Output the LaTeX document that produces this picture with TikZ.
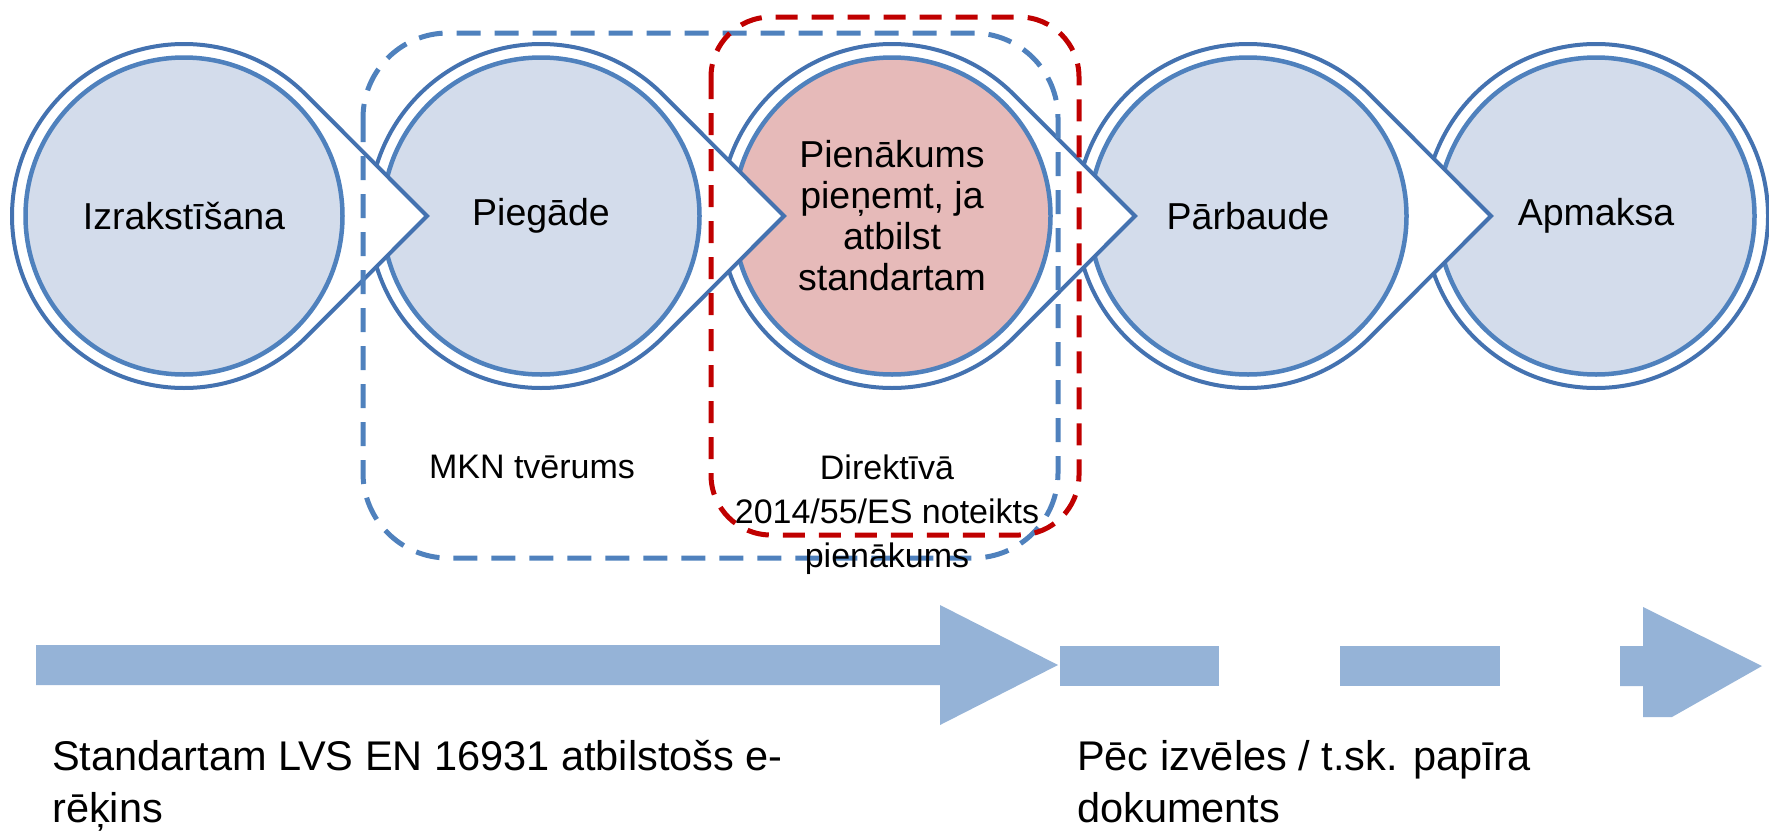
\documentclass[tikz,border=0pt]{standalone}
\usepackage{fontspec}
\setmainfont{Liberation Sans}
\definecolor{ringout}{RGB}{68,114,176}
\definecolor{ringin}{RGB}{79,129,189}
\definecolor{fillblue}{RGB}{211,220,235}
\definecolor{fillpink}{RGB}{230,186,185}
\definecolor{barblue}{RGB}{149,179,215}
\definecolor{dashblue}{RGB}{79,129,189}
\definecolor{dashred}{RGB}{192,0,0}
\tikzset{
  outershape/.style={fill=white, draw=ringout, line width=4pt, line join=miter},
  stage/.style={circle, minimum size=317pt, inner sep=0pt, draw=ringin, line width=4.5pt,
    fill=fillblue, align=center, font=\fontsize{37.5}{41}\selectfont},
  scopebox/.style={draw=dashblue, line width=5pt, dash pattern=on 24pt off 14pt, rounded corners=85pt},
  dirbox/.style={draw=dashred, line width=5pt, dash pattern=on 22pt off 14pt, rounded corners=60pt},
  note/.style={font=\fontsize{34}{44}\selectfont, inner sep=0pt, anchor=base},
  bignote/.style={font=\fontsize{41.5}{52}\selectfont, inner sep=0pt, anchor=base west},
  bar/.style={fill=barblue}
}
\begin{document}
\begin{tikzpicture}[x=1pt, y=-1pt]
\useasboundingbox (0,0) rectangle (1769,830);
% stages, drawn right to left so each tip overlaps the next circle
\draw[outershape] (1596,216) circle[radius=172];
\node[stage] (apm) at (1596,216) {Apmaksa};
\draw[outershape] (1491,216) -- ([shift={(45:172)}]1248,216)
  arc[start angle=45, end angle=315, radius=172] -- cycle;
\node[stage] (par) at (1248,216) {Pārbaude};
\draw[outershape] (1135,216) -- ([shift={(45:172)}]892,216)
  arc[start angle=45, end angle=315, radius=172] -- cycle;
\node[stage, fill=fillpink] (pien) at (892,216) {Pienākums\\pieņemt, ja\\atbilst\\standartam};
\draw[outershape] (784,216) -- ([shift={(45:172)}]541,216)
  arc[start angle=45, end angle=315, radius=172] -- cycle;
\node[stage] (pieg) at (541,216) {Piegāde};
\draw[outershape] (427,216) -- ([shift={(45:172)}]184,216)
  arc[start angle=45, end angle=315, radius=172] -- cycle;
\node[stage] (izr) at (184,216) {Izrakstīšana};
% dashed scope boxes
\draw[scopebox] (363,33) rectangle (1058,558);
\draw[dirbox] (711,17) rectangle (1079,535);
% labels
\node[note] (mkn) at (532,478) {MKN tvērums};
\node[note] (dir1) at (887,479) {Direktīvā};
\node[note] (dir2) at (887,523) {2014/55/ES noteikts};
\node[note] (dir3) at (887,567) {pienākums};
% bottom arrows
\fill[bar] (36,645) -- (940,645) -- (940,605) -- (1058,665) -- (940,725) -- (940,685) -- (36,685) -- cycle;
\fill[bar] (1060,646) rectangle (1219,686);
\fill[bar] (1340,646) rectangle (1500,686);
\fill[bar] (1620,646) -- (1643,646) -- (1643,607) -- (1762,666) -- (1672,717) -- (1643,717) -- (1643,686) -- (1620,686) -- cycle;
% bottom texts
\node[bignote] (std1) at (52,770) {Standartam LVS EN 16931 atbilstošs e-};
\node[bignote] (std2) at (52,822) {rēķins};
\node[bignote] (opt1) at (1077,770) {Pēc izvēles / t.sk. papīra};
\node[bignote] (opt2) at (1077,822) {dokuments};
\end{tikzpicture}
\end{document}
